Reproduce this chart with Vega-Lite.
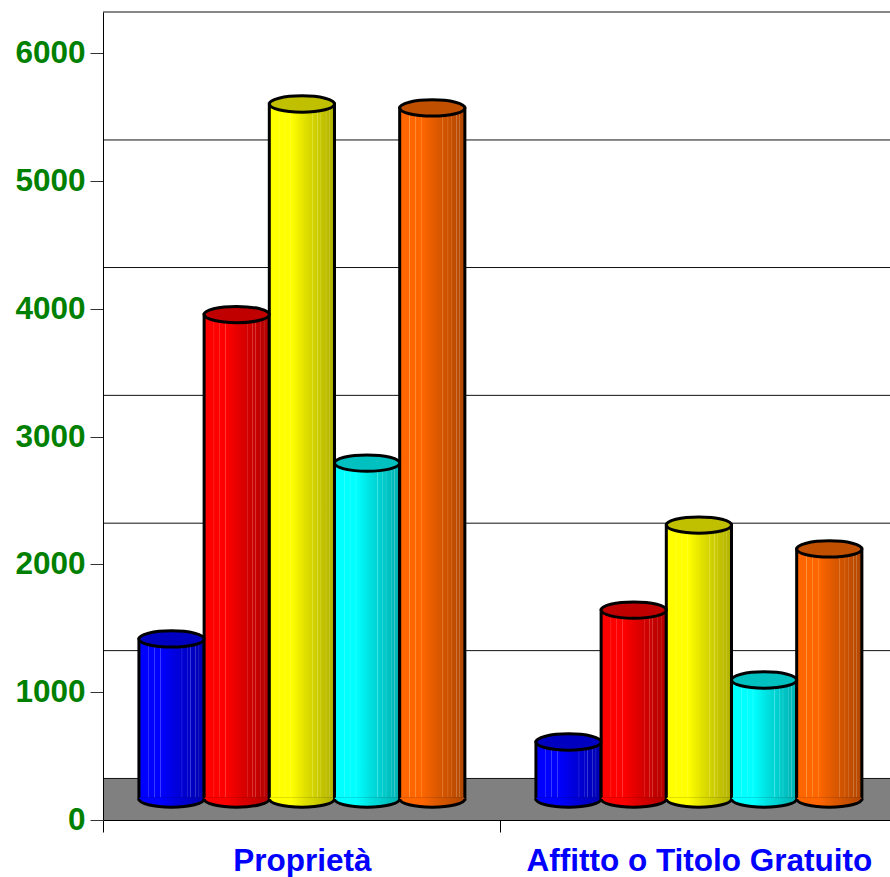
{
"$schema":"https://vega.github.io/schema/vega-lite/v6.json",
"width":787,"height":808,
"autosize":{"type":"none"},
"padding":{"left":103,"top":12,"right":0,"bottom":57},
"background":"white",
"config":{"view":{"stroke":null}},
"datasets":{
"bars":[
{"group":"Proprietà","series":"Serie 1","value":1252,"base":0},
{"group":"Proprietà","series":"Serie 2","value":3790,"base":0},
{"group":"Proprietà","series":"Serie 3","value":5437,"base":0},
{"group":"Proprietà","series":"Serie 4","value":2628,"base":0},
{"group":"Proprietà","series":"Serie 5","value":5406,"base":0},
{"group":"Affitto o Titolo Gratuito","series":"Serie 1","value":446,"base":0},
{"group":"Affitto o Titolo Gratuito","series":"Serie 2","value":1478,"base":0},
{"group":"Affitto o Titolo Gratuito","series":"Serie 3","value":2143,"base":0},
{"group":"Affitto o Titolo Gratuito","series":"Serie 4","value":931,"base":0},
{"group":"Affitto o Titolo Gratuito","series":"Serie 5","value":1956,"base":0}
],
"levels":[{"level":325},{"level":1325},{"level":2322},{"level":3322},{"level":4322},{"level":5320},{"level":6321}],
"floor":[{"from":0,"to":325}]
},
"encoding":{},
"layer":[
{"data":{"name":"floor"},"mark":{"type":"rect","color":"#808080"},
 "encoding":{"y":{"field":"from","type":"quantitative","scale":{"domain":[0,6321],"nice":false},
   "axis":{"title":null,"values":[0,1000,2000,3000,4000,5000,6000],"format":"d","grid":false,"tickSize":13,"tickColor":"#333333","domainColor":"#000000","labelPadding":5,"labelOffset":0.5,"labelFont":"Liberation Sans","labelFontWeight":"bold","labelFontSize":31.5,"labelColor":"#008000","zindex":1}},
  "y2":{"field":"to"}}},
{"data":{"name":"levels"},"mark":{"type":"rule","color":"#111111","strokeWidth":1},
 "encoding":{"y":{"field":"level","type":"quantitative"}}},
{"data":{"name":"bars"},"transform":[{"filter":"datum.series==='Serie 1'"}],
 "layer":[
  {"mark":{"type":"bar","stroke":"#000000","strokeWidth":3,"yOffset":-21,"y2Offset":-21,"fill":{"gradient":"linear","x1":0,"x2":1,"y1":0,"y2":0,"stops":[
    {"offset":0,"color":"#0000ff"},{"offset":0.14,"color":"#0000ff"},{"offset":0.15,"color":"#4040ff"},{"offset":0.16,"color":"#0000ff"},{"offset":0.23,"color":"#0000ff"},{"offset":0.24,"color":"#4040ff"},{"offset":0.25,"color":"#0000ff"},{"offset":0.32,"color":"#0000ff"},{"offset":0.33,"color":"#4040ff"},{"offset":0.34,"color":"#0000ff"},{"offset":0.55,"color":"#0000e0"},
    {"offset":0.65,"color":"#0000d4"},{"offset":0.66,"color":"#4040e4"},{"offset":0.67,"color":"#0000d4"},{"offset":0.73,"color":"#0000cc"},{"offset":0.74,"color":"#4040dc"},{"offset":0.75,"color":"#0000cc"},{"offset":0.78,"color":"#0000c6"},{"offset":0.79,"color":"#4040d6"},{"offset":0.80,"color":"#0000c6"},{"offset":0.86,"color":"#0000be"},{"offset":0.87,"color":"#4040ce"},{"offset":0.88,"color":"#0000be"},{"offset":0.91,"color":"#0000b9"},{"offset":0.92,"color":"#4040c9"},{"offset":0.93,"color":"#0000b9"},{"offset":1,"color":"#0000b0"}]}},
   "encoding":{
    "x":{"field":"group","type":"nominal","scale":{"domain":["Proprietà","Affitto o Titolo Gratuito"],"range":[0.4,794.4],"paddingInner":0,"paddingOuter":0},
     "axis":{"title":null,"labelAngle":0,"labelLimit":600,"tickBand":"extent","tickSize":12,"tickColor":"#000000","domainColor":"#000000","labelPadding":13,"labelFont":"Liberation Sans","labelFontWeight":"bold","labelFontSize":31.5,"labelColor":"#0000ff","zindex":1}},
    "xOffset":{"field":"series","type":"nominal","scale":{"domain":["Serie 1","Serie 2","Serie 3","Serie 4","Serie 5"],"paddingInner":0,"paddingOuter":0.545}},
    "y":{"field":"value","type":"quantitative"},"y2":{"field":"base"}}},
  {"mark":{"type":"point","filled":true,"opacity":1,"size":4250,"yOffset":-21,"strokeWidth":0,"shape":"M-0.96,-0.05 L0.96,-0.05 L1,0 A1,0.25 0 0 1 -1,0 Z","fill":{"gradient":"linear","x1":0,"x2":1,"y1":0,"y2":0,"stops":[{"offset":0,"color":"#0000ff"},{"offset":0.34,"color":"#0000ff"},{"offset":0.55,"color":"#0000e0"},{"offset":1,"color":"#0000b0"}]}},
   "encoding":{"x":{"field":"group","type":"nominal"},"xOffset":{"field":"series","type":"nominal"},"y":{"field":"base","type":"quantitative"}}}
 ]},
{"data":{"name":"bars"},"transform":[{"filter":"datum.series==='Serie 2'"}],
 "layer":[
  {"mark":{"type":"bar","stroke":"#000000","strokeWidth":3,"yOffset":-21,"y2Offset":-21,"fill":{"gradient":"linear","x1":0,"x2":1,"y1":0,"y2":0,"stops":[
    {"offset":0,"color":"#ff0000"},{"offset":0.14,"color":"#ff0000"},{"offset":0.15,"color":"#ff4040"},{"offset":0.16,"color":"#ff0000"},{"offset":0.23,"color":"#ff0000"},{"offset":0.24,"color":"#ff4040"},{"offset":0.25,"color":"#ff0000"},{"offset":0.32,"color":"#ff0000"},{"offset":0.33,"color":"#ff4040"},{"offset":0.34,"color":"#ff0000"},{"offset":0.55,"color":"#e00000"},
    {"offset":0.65,"color":"#d40000"},{"offset":0.66,"color":"#e44040"},{"offset":0.67,"color":"#d40000"},{"offset":0.73,"color":"#cc0000"},{"offset":0.74,"color":"#dc4040"},{"offset":0.75,"color":"#cc0000"},{"offset":0.78,"color":"#c60000"},{"offset":0.79,"color":"#d64040"},{"offset":0.80,"color":"#c60000"},{"offset":0.86,"color":"#be0000"},{"offset":0.87,"color":"#ce4040"},{"offset":0.88,"color":"#be0000"},{"offset":0.91,"color":"#b90000"},{"offset":0.92,"color":"#c94040"},{"offset":0.93,"color":"#b90000"},{"offset":1,"color":"#b00000"}]}},
   "encoding":{"x":{"field":"group","type":"nominal"},"xOffset":{"field":"series","type":"nominal"},"y":{"field":"value","type":"quantitative"},"y2":{"field":"base"}}},
  {"mark":{"type":"point","filled":true,"opacity":1,"size":4250,"yOffset":-21,"strokeWidth":0,"shape":"M-0.96,-0.05 L0.96,-0.05 L1,0 A1,0.25 0 0 1 -1,0 Z","fill":{"gradient":"linear","x1":0,"x2":1,"y1":0,"y2":0,"stops":[{"offset":0,"color":"#ff0000"},{"offset":0.34,"color":"#ff0000"},{"offset":0.55,"color":"#e00000"},{"offset":1,"color":"#b00000"}]}},
   "encoding":{"x":{"field":"group","type":"nominal"},"xOffset":{"field":"series","type":"nominal"},"y":{"field":"base","type":"quantitative"}}}
 ]},
{"data":{"name":"bars"},"transform":[{"filter":"datum.series==='Serie 3'"}],
 "layer":[
  {"mark":{"type":"bar","stroke":"#000000","strokeWidth":3,"yOffset":-21,"y2Offset":-21,"fill":{"gradient":"linear","x1":0,"x2":1,"y1":0,"y2":0,"stops":[
    {"offset":0,"color":"#ffff00"},{"offset":0.14,"color":"#ffff00"},{"offset":0.15,"color":"#ffff40"},{"offset":0.16,"color":"#ffff00"},{"offset":0.23,"color":"#ffff00"},{"offset":0.24,"color":"#ffff40"},{"offset":0.25,"color":"#ffff00"},{"offset":0.32,"color":"#ffff00"},{"offset":0.33,"color":"#ffff40"},{"offset":0.34,"color":"#ffff00"},{"offset":0.55,"color":"#e0e000"},
    {"offset":0.65,"color":"#d4d400"},{"offset":0.66,"color":"#e4e440"},{"offset":0.67,"color":"#d4d400"},{"offset":0.73,"color":"#cccc00"},{"offset":0.74,"color":"#dcdc40"},{"offset":0.75,"color":"#cccc00"},{"offset":0.78,"color":"#c6c600"},{"offset":0.79,"color":"#d6d640"},{"offset":0.80,"color":"#c6c600"},{"offset":0.86,"color":"#bebe00"},{"offset":0.87,"color":"#cece40"},{"offset":0.88,"color":"#bebe00"},{"offset":0.91,"color":"#b9b900"},{"offset":0.92,"color":"#c9c940"},{"offset":0.93,"color":"#b9b900"},{"offset":1,"color":"#b0b000"}]}},
   "encoding":{"x":{"field":"group","type":"nominal"},"xOffset":{"field":"series","type":"nominal"},"y":{"field":"value","type":"quantitative"},"y2":{"field":"base"}}},
  {"mark":{"type":"point","filled":true,"opacity":1,"size":4250,"yOffset":-21,"strokeWidth":0,"shape":"M-0.96,-0.05 L0.96,-0.05 L1,0 A1,0.25 0 0 1 -1,0 Z","fill":{"gradient":"linear","x1":0,"x2":1,"y1":0,"y2":0,"stops":[{"offset":0,"color":"#ffff00"},{"offset":0.34,"color":"#ffff00"},{"offset":0.55,"color":"#e0e000"},{"offset":1,"color":"#b0b000"}]}},
   "encoding":{"x":{"field":"group","type":"nominal"},"xOffset":{"field":"series","type":"nominal"},"y":{"field":"base","type":"quantitative"}}}
 ]},
{"data":{"name":"bars"},"transform":[{"filter":"datum.series==='Serie 4'"}],
 "layer":[
  {"mark":{"type":"bar","stroke":"#000000","strokeWidth":3,"yOffset":-21,"y2Offset":-21,"fill":{"gradient":"linear","x1":0,"x2":1,"y1":0,"y2":0,"stops":[
    {"offset":0,"color":"#00ffff"},{"offset":0.14,"color":"#00ffff"},{"offset":0.15,"color":"#40ffff"},{"offset":0.16,"color":"#00ffff"},{"offset":0.23,"color":"#00ffff"},{"offset":0.24,"color":"#40ffff"},{"offset":0.25,"color":"#00ffff"},{"offset":0.32,"color":"#00ffff"},{"offset":0.33,"color":"#40ffff"},{"offset":0.34,"color":"#00ffff"},{"offset":0.55,"color":"#00e0e0"},
    {"offset":0.65,"color":"#00d4d4"},{"offset":0.66,"color":"#40e4e4"},{"offset":0.67,"color":"#00d4d4"},{"offset":0.73,"color":"#00cccc"},{"offset":0.74,"color":"#40dcdc"},{"offset":0.75,"color":"#00cccc"},{"offset":0.78,"color":"#00c6c6"},{"offset":0.79,"color":"#40d6d6"},{"offset":0.80,"color":"#00c6c6"},{"offset":0.86,"color":"#00bebe"},{"offset":0.87,"color":"#40cece"},{"offset":0.88,"color":"#00bebe"},{"offset":0.91,"color":"#00b9b9"},{"offset":0.92,"color":"#40c9c9"},{"offset":0.93,"color":"#00b9b9"},{"offset":1,"color":"#00b0b0"}]}},
   "encoding":{"x":{"field":"group","type":"nominal"},"xOffset":{"field":"series","type":"nominal"},"y":{"field":"value","type":"quantitative"},"y2":{"field":"base"}}},
  {"mark":{"type":"point","filled":true,"opacity":1,"size":4250,"yOffset":-21,"strokeWidth":0,"shape":"M-0.96,-0.05 L0.96,-0.05 L1,0 A1,0.25 0 0 1 -1,0 Z","fill":{"gradient":"linear","x1":0,"x2":1,"y1":0,"y2":0,"stops":[{"offset":0,"color":"#00ffff"},{"offset":0.34,"color":"#00ffff"},{"offset":0.55,"color":"#00e0e0"},{"offset":1,"color":"#00b0b0"}]}},
   "encoding":{"x":{"field":"group","type":"nominal"},"xOffset":{"field":"series","type":"nominal"},"y":{"field":"base","type":"quantitative"}}}
 ]},
{"data":{"name":"bars"},"transform":[{"filter":"datum.series==='Serie 5'"}],
 "layer":[
  {"mark":{"type":"bar","stroke":"#000000","strokeWidth":3,"yOffset":-21,"y2Offset":-21,"fill":{"gradient":"linear","x1":0,"x2":1,"y1":0,"y2":0,"stops":[
    {"offset":0,"color":"#ff6600"},{"offset":0.14,"color":"#ff6600"},{"offset":0.15,"color":"#ff9640"},{"offset":0.16,"color":"#ff6600"},{"offset":0.23,"color":"#ff6600"},{"offset":0.24,"color":"#ff9640"},{"offset":0.25,"color":"#ff6600"},{"offset":0.32,"color":"#ff6600"},{"offset":0.33,"color":"#ff9640"},{"offset":0.34,"color":"#ff6600"},{"offset":0.55,"color":"#e05a00"},
    {"offset":0.65,"color":"#d45500"},{"offset":0.66,"color":"#e48540"},{"offset":0.67,"color":"#d45500"},{"offset":0.73,"color":"#cc5200"},{"offset":0.74,"color":"#dc8240"},{"offset":0.75,"color":"#cc5200"},{"offset":0.78,"color":"#c64f00"},{"offset":0.79,"color":"#d67f40"},{"offset":0.80,"color":"#c64f00"},{"offset":0.86,"color":"#be4c00"},{"offset":0.87,"color":"#ce7c40"},{"offset":0.88,"color":"#be4c00"},{"offset":0.91,"color":"#b94a00"},{"offset":0.92,"color":"#c97a40"},{"offset":0.93,"color":"#b94a00"},{"offset":1,"color":"#b04600"}]}},
   "encoding":{"x":{"field":"group","type":"nominal"},"xOffset":{"field":"series","type":"nominal"},"y":{"field":"value","type":"quantitative"},"y2":{"field":"base"}}},
  {"mark":{"type":"point","filled":true,"opacity":1,"size":4250,"yOffset":-21,"strokeWidth":0,"shape":"M-0.96,-0.05 L0.96,-0.05 L1,0 A1,0.25 0 0 1 -1,0 Z","fill":{"gradient":"linear","x1":0,"x2":1,"y1":0,"y2":0,"stops":[{"offset":0,"color":"#ff6600"},{"offset":0.34,"color":"#ff6600"},{"offset":0.55,"color":"#e05a00"},{"offset":1,"color":"#b04600"}]}},
   "encoding":{"x":{"field":"group","type":"nominal"},"xOffset":{"field":"series","type":"nominal"},"y":{"field":"base","type":"quantitative"}}}
 ]},
{"data":{"name":"bars"},"mark":{"type":"point","filled":false,"opacity":1,"size":4250,"yOffset":-21,"stroke":"#000000","strokeWidth":3,"shape":"M-1,0 A1,0.25 0 0 0 1,0"},
 "encoding":{"x":{"field":"group","type":"nominal"},"xOffset":{"field":"series","type":"nominal"},"y":{"field":"base","type":"quantitative"}}},
{"data":{"name":"bars"},"mark":{"type":"point","filled":true,"opacity":1,"size":4250,"yOffset":-21,"stroke":"#000000","strokeWidth":3,"shape":"M-1,0 A1,0.25 0 1 1 1,0 A1,0.25 0 1 1 -1,0 Z"},
 "encoding":{"x":{"field":"group","type":"nominal"},"xOffset":{"field":"series","type":"nominal"},"y":{"field":"value","type":"quantitative"},
  "fill":{"field":"series","type":"nominal","legend":null,"scale":{"domain":["Serie 1","Serie 2","Serie 3","Serie 4","Serie 5"],"range":["#0000c0","#c00000","#c0c000","#00c0c0","#c05000"]}}}}
]
}
